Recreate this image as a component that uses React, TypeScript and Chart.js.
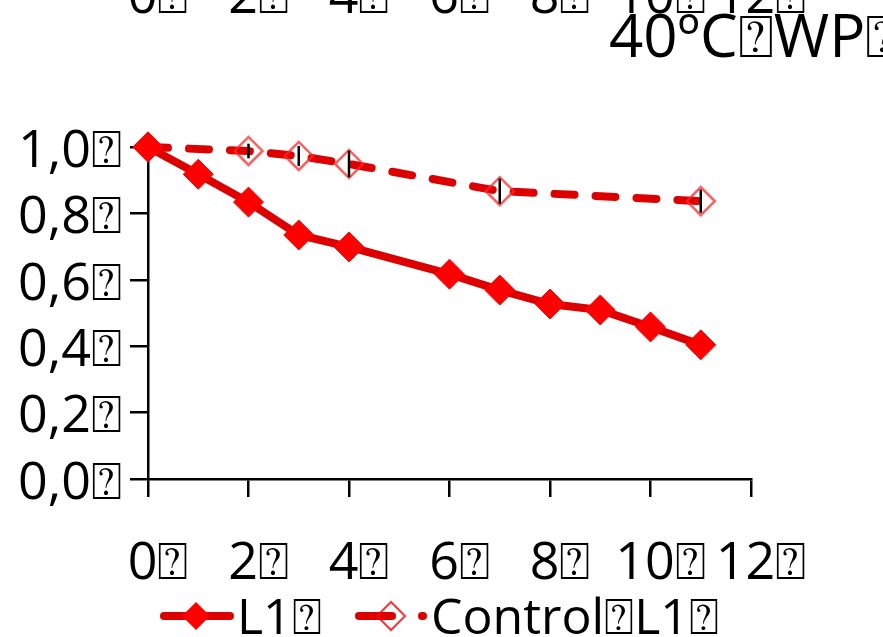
import React, { useEffect, useRef } from "react";
import { Chart, registerables } from "chart.js";
Chart.register(...registerables);

const BOX = "\u2370";
const l1Days = [0, 1, 2, 3, 4, 6, 7, 8, 9, 10, 11];
const l1Values = [1.0, 0.918, 0.834, 0.735, 0.699, 0.617, 0.569, 0.527, 0.509, 0.458, 0.404];
const controlDays = [0, 2, 3, 4, 7, 11];
const controlValues = [1.0, 0.988, 0.973, 0.949, 0.867, 0.837];
const controlErrors = [0, 0.022, 0.03, 0.04, 0.038, 0.035];
const xTickValues = [0, 2, 4, 6, 8, 10, 12];
const titleText = "40ºC" + BOX + "WP" + BOX;
const legendLabels = ["L1" + BOX, "Control" + BOX + "L1" + BOX];

const FONT = "'Open Sans', 'DejaVu Sans', sans-serif";
const LINE_RED = "#dd0000";
const MARK_RED = "#ff0000";

function diamond(ctx: CanvasRenderingContext2D, x: number, y: number, r: number) {
  ctx.beginPath();
  ctx.moveTo(x, y - r);
  ctx.lineTo(x + r, y);
  ctx.lineTo(x, y + r);
  ctx.lineTo(x - r, y);
  ctx.closePath();
}

const extras = {
  id: "extras",
  afterDatasetsDraw(chart: any) {
    const ctx = chart.ctx as CanvasRenderingContext2D;
    const xs = chart.scales.x;
    const ys = chart.scales.y;
    ctx.save();
    ctx.strokeStyle = "#000";
    ctx.lineWidth = 2.5;
    controlDays.forEach((d, i) => {
      const e = controlErrors[i];
      if (!e) return;
      const px = xs.getPixelForValue(d);
      ctx.beginPath();
      ctx.moveTo(px, ys.getPixelForValue(controlValues[i] + e));
      ctx.lineTo(px, ys.getPixelForValue(controlValues[i] - e));
      ctx.stroke();
    });
    ctx.restore();
  },
  afterDraw(chart: any) {
    const ctx = chart.ctx as CanvasRenderingContext2D;
    const xs = chart.scales.x;
    ctx.save();
    ctx.fillStyle = "#000";
    ctx.font = `52px ${FONT}`;
    // clipped labels of the chart above
    ctx.textAlign = "center";
    ctx.textBaseline = "alphabetic";
    xTickValues.forEach((v) => {
      ctx.fillText(String(v) + BOX, xs.getPixelForValue(v) + 10, 13);
    });
    // title
    ctx.font = `60px ${FONT}`;
    ctx.textAlign = "left";
    ctx.fillText(titleText, 609, 57);
    // legend
    const ly = 616;
    ctx.font = `50px ${FONT}`;
    ctx.textBaseline = "middle";
    ctx.lineCap = "round";
    ctx.strokeStyle = LINE_RED;
    ctx.lineWidth = 8;
    ctx.beginPath();
    ctx.moveTo(164, ly);
    ctx.lineTo(230, ly);
    ctx.stroke();
    ctx.fillStyle = MARK_RED;
    diamond(ctx, 196, ly, 14);
    ctx.fill();
    ctx.fillStyle = "#000";
    ctx.fillText(legendLabels[0], 237, ly + 4);

    ctx.strokeStyle = LINE_RED;
    ctx.beginPath();
    ctx.moveTo(359, ly);
    ctx.lineTo(392, ly);
    ctx.moveTo(422, ly);
    ctx.lineTo(423, ly);
    ctx.stroke();
    ctx.strokeStyle = "rgba(255,0,0,0.8)";
    ctx.lineWidth = 2;
    diamond(ctx, 391, ly, 14);
    ctx.stroke();
    ctx.fillStyle = "#000";
    ctx.fillText(legendLabels[1], 431, ly + 4);
    ctx.restore();
  },
};

export default function App() {
  const ref = useRef<HTMLCanvasElement | null>(null);
  useEffect(() => {
    if (!ref.current) return;
    const chart = new Chart(ref.current, {
      type: "line",
      data: {
        datasets: [
          {
            label: legendLabels[0],
            data: l1Days.map((d, i) => ({ x: d, y: l1Values[i] })),
            borderColor: LINE_RED,
            borderWidth: 8,
            backgroundColor: MARK_RED,
            pointStyle: "rectRot",
            pointRadius: 15,
            pointBackgroundColor: MARK_RED,
            pointBorderColor: MARK_RED,
            pointBorderWidth: 1,
            clip: false as any,
          },
          {
            label: legendLabels[1],
            data: controlDays.map((d, i) => ({ x: d, y: controlValues[i] })),
            borderColor: LINE_RED,
            borderWidth: 8,
            borderDash: [20, 21],
            borderCapStyle: "round",
            pointStyle: "rectRot",
            pointRadius: 14,
            pointBackgroundColor: "rgba(255,255,255,0)",
            pointBorderColor: "rgba(255,40,40,0.75)",
            pointBorderWidth: 2.5,
            clip: false as any,
          },
        ],
      },
      options: {
        animation: false,
        responsive: true,
        maintainAspectRatio: false,
        layout: { padding: { top: 147, right: 132, left: 0, bottom: 0 } },
        plugins: { legend: { display: false }, title: { display: false }, tooltip: { enabled: false } },
        scales: {
          x: {
            type: "linear",
            min: 0,
            max: 12,
            ticks: {
              stepSize: 2,
              color: "#000",
              font: { family: FONT, size: 52 },
              padding: 36,
              labelOffset: 10,
              maxRotation: 0,
              autoSkip: false,
              callback: (v: any) => String(v) + BOX,
            },
            grid: { drawOnChartArea: false, tickLength: 18, color: "#000", lineWidth: 2.5 },
            border: { color: "#000", width: 2.5 },
            afterFit: (s: any) => {
              s.height = 158;
            },
          },
          y: {
            min: 0,
            max: 1,
            ticks: {
              stepSize: 0.2,
              color: "#000",
              font: { family: FONT, size: 52 },
              padding: 8,
              labelOffset: 5,
              callback: (v: any) => Number(v).toFixed(1).replace(".", ",") + BOX,
            },
            grid: { drawOnChartArea: false, tickLength: 18, color: "#000", lineWidth: 2.5 },
            border: { color: "#000", width: 2.5 },
            afterFit: (s: any) => {
              s.width = 148;
            },
          },
        },
      },
      plugins: [extras],
    });
    return () => chart.destroy();
  }, []);
  return (
    <div style={{ position: "fixed", left: 0, top: 0, width: 883, height: 637 }}>
      <canvas ref={ref} />
    </div>
  );
}
